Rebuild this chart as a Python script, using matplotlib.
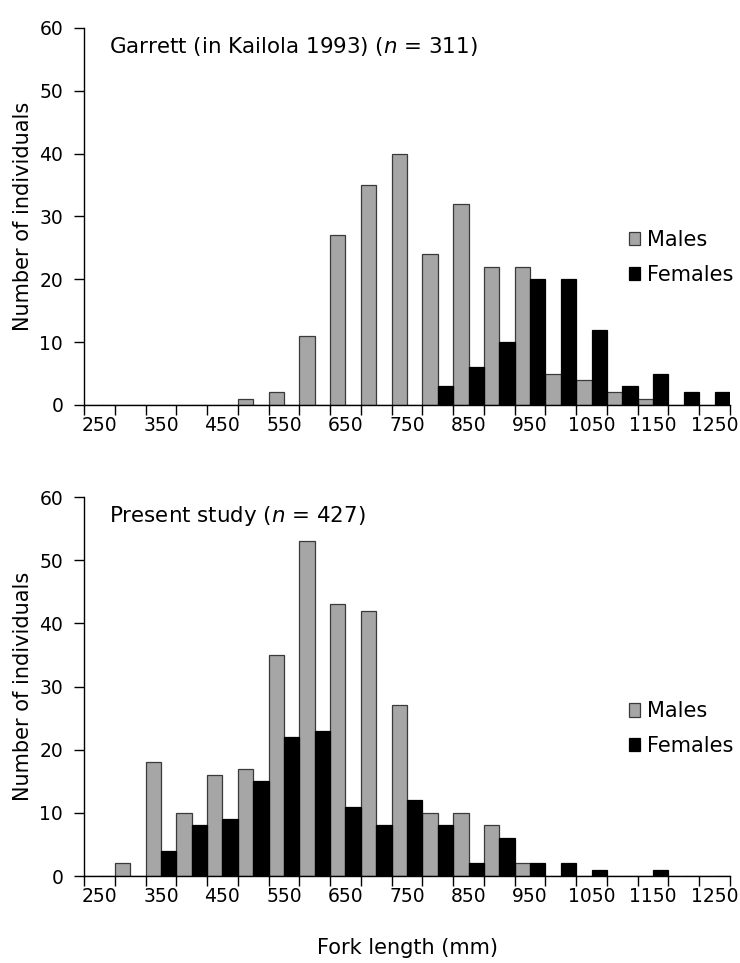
import numpy as np
import matplotlib
matplotlib.use("Agg")
import matplotlib.pyplot as plt

plt.rcParams['font.family'] = ['DejaVu Sans']
plt.rcParams['mathtext.fontset'] = 'dejavusans'

categories = [250, 300, 350, 400, 450, 500, 550, 600, 650, 700, 750,
              800, 850, 900, 950, 1000, 1050, 1100, 1150, 1200, 1250]

garrett_males = [0, 0, 0, 0, 0, 1, 2, 11, 27, 35, 40, 24, 32, 22, 22, 5, 4, 2, 1, 0, 0]
garrett_females = [0, 0, 0, 0, 0, 0, 0, 0, 0, 0, 0, 3, 6, 10, 20, 20, 12, 3, 5, 2, 2]

present_males = [0, 2, 18, 10, 16, 17, 35, 53, 43, 42, 27, 10, 10, 8, 2, 0, 0, 0, 0, 0, 0]
present_females = [0, 0, 4, 8, 9, 15, 22, 23, 11, 8, 12, 8, 2, 6, 2, 2, 1, 0, 1, 0, 0]

panel_titles = ["Garrett (in Kailola 1993) ($n$ = 311)", "Present study ($n$ = 427)"]
tick_labels = [str(c) for c in categories[::2]]

W, H = 740, 963
fig = plt.figure(figsize=(W / 100, H / 100), dpi=100)

axes_px = [(84, 730, 28, 405), (84, 730, 497, 876)]
data = [(garrett_males, garrett_females), (present_males, present_females)]
TICK_FS = 13.5
LAB_FS = 15
TITLE_FS = 15.4
GRAY = '#A6A6A6'
legend_y = [0.464, 0.461]

for i, ((l, r, t, b), (males, females), title) in enumerate(zip(axes_px, data, panel_titles)):
    ax = fig.add_axes([l / W, 1 - b / H, (r - l) / W, (b - t) / H])
    x = np.arange(len(categories))
    ax.bar(x - 0.25, males, width=0.5, color=GRAY, edgecolor='#3a3a3a', linewidth=0.9, label='Males')
    ax.bar(x + 0.25, females, width=0.5, color='black', edgecolor='black', linewidth=0.9, label='Females')
    ax.set_xlim(-0.5, len(categories) - 0.5)
    ax.set_ylim(0, 60)
    ax.set_yticks(np.arange(0, 61, 10))
    ax.tick_params(axis='y', labelsize=TICK_FS, length=7, width=1, direction='out', pad=8)
    ax.set_xticks(np.arange(-0.5, len(categories), 1))
    ax.set_xticklabels([])
    ax.tick_params(axis='x', which='major', length=7, width=1, direction='out')
    ax.set_xticks(x[::2], minor=True)
    ax.set_xticklabels(tick_labels, minor=True)
    ax.tick_params(axis='x', which='minor', length=0, labelsize=TICK_FS, pad=8)
    for s in ['top', 'right']:
        ax.spines[s].set_visible(False)
    for s in ['left', 'bottom']:
        ax.spines[s].set_linewidth(1)
        ax.spines[s].set_color('black')
    ax.set_ylabel('Number of individuals', fontsize=LAB_FS, va='center')
    ax.yaxis.set_label_coords(-0.095, 0.5)
    ax.text(0.0387, 0.95, title, transform=ax.transAxes, fontsize=TITLE_FS, va='center', ha='left')
    ax.legend(loc='upper left', bbox_to_anchor=(0.8437, legend_y[i]), frameon=False, fontsize=LAB_FS,
              handlelength=0.55, handleheight=0.6, handletextpad=0.3, labelspacing=0.7,
              borderaxespad=0, borderpad=0)

fig.text((84 + 730) / 2 / W, 1 - 948 / H, 'Fork length (mm)', fontsize=LAB_FS, ha='center', va='center')

fig.savefig('out.png', dpi=100)
